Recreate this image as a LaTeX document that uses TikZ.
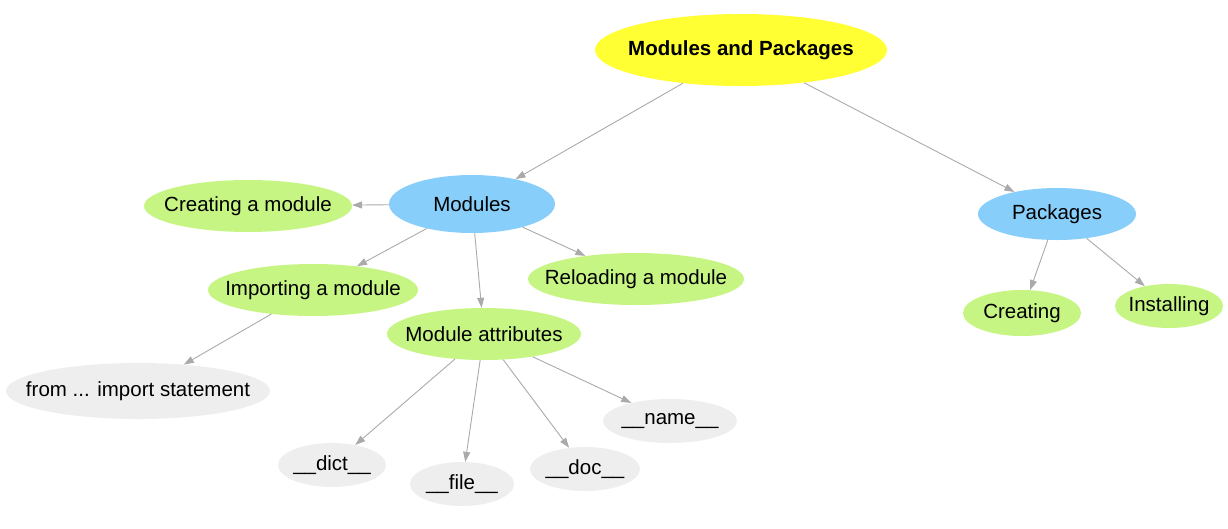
\documentclass[tikz,border=0pt]{standalone}
\usepackage{fontspec}
\setmainfont{Liberation Sans}
\usetikzlibrary{shapes.geometric,arrows.meta}
\definecolor{rootyellow}{HTML}{FFFF33}
\definecolor{topicblue}{HTML}{87CEFA}
\definecolor{itemgreen}{HTML}{C6F584}
\definecolor{leafgray}{HTML}{EEEEEE}
\definecolor{edgegray}{HTML}{AAAAAA}
% keep the ellipse at its given size, whatever the label
\newcommand{\lbl}[1]{\makebox[0pt]{#1}}
\begin{document}
\begin{tikzpicture}[x=1pt,y=-1pt,font=\fontsize{20.5}{24}\selectfont,
  bubble/.style={ellipse,inner sep=0pt,text=black},
  root/.style={bubble,fill=rootyellow,font=\fontsize{20.5}{24}\selectfont\bfseries},
  topic/.style={bubble,fill=topicblue},
  item/.style={bubble,fill=itemgreen},
  leaf/.style={bubble,fill=leafgray},
  link/.style={draw=edgegray,line width=0.9pt,-{Triangle[length=10pt,width=7pt]}}]
  \useasboundingbox (0,0) rectangle (1228,528);

  \node[root,minimum width=292,minimum height=72] (mp) at (741,50) {\lbl{Modules and Packages}};
  \node[topic,minimum width=166,minimum height=58] (mods) at (472,204) {\lbl{Modules}};
  \node[topic,minimum width=158,minimum height=52] (pkgs) at (1057,214) {\lbl{Packages}};

  \node[item,minimum width=208,minimum height=52] (create) at (248,206) {\lbl{Creating a module}};
  \node[item,minimum width=210,minimum height=52] (import) at (313,290) {\lbl{Importing a module}};
  \node[item,minimum width=216,minimum height=52] (reload) at (636,279) {\lbl{Reloading a module}};
  \node[item,minimum width=194,minimum height=52] (attrs) at (484,334) {\lbl{Module attributes}};
  \node[item,minimum width=118,minimum height=46] (pcreate) at (1022,313) {\lbl{Creating}};
  \node[item,minimum width=108,minimum height=44] (pinstall) at (1169,306) {\lbl{Installing}};

  \node[leaf,minimum width=264,minimum height=56] (from) at (138,391) {\lbl{from ... import statement}};
  \node[leaf,minimum width=108,minimum height=44] (dict) at (332,465) {\lbl{\_\_dict\_\_}};
  \node[leaf,minimum width=104,minimum height=44] (file) at (462,484) {\lbl{\_\_file\_\_}};
  \node[leaf,minimum width=110,minimum height=44] (doc) at (585,469) {\lbl{\_\_doc\_\_}};
  \node[leaf,minimum width=134,minimum height=44] (name) at (670,421) {\lbl{\_\_name\_\_}};

  \draw[link] (mp) -- (mods);
  \draw[link] (mp) -- (pkgs);
  \draw[link] (mods) -- (create);
  \draw[link] (mods) -- (import);
  \draw[link] (mods) -- (attrs);
  \draw[link] (mods) -- (reload);
  \draw[link] (import) -- (from);
  \draw[link] (attrs) -- (dict);
  \draw[link] (attrs) -- (file);
  \draw[link] (attrs) -- (doc);
  \draw[link] (attrs) -- (name);
  \draw[link] (pkgs) -- (pcreate);
  \draw[link] (pkgs) -- (pinstall);
\end{tikzpicture}
\end{document}
